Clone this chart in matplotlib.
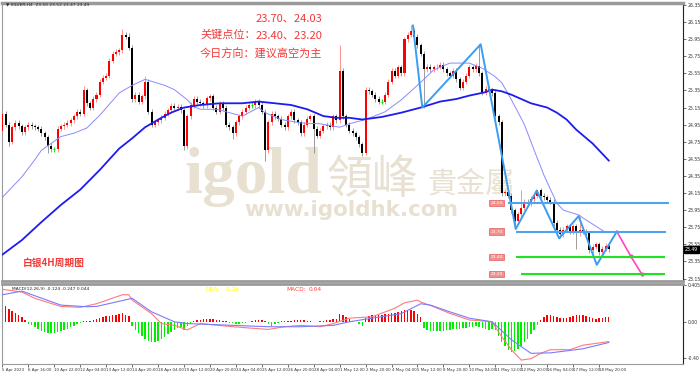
import numpy as np
import matplotlib.pyplot as plt

# ---- price data (4H candles, bar index 0..187) ----
open0 = 24.87
closes = [
    25.08, 24.95, 24.75, 24.92, 24.97, 24.93, 24.86, 24.92, 24.95, 24.93,
    24.92, 24.90, 24.85, 24.80, 24.70, 24.66, 24.66, 24.90, 24.93, 24.95,
    24.97, 25.00, 25.05, 25.10, 25.08, 25.35, 25.20, 25.15, 25.25, 25.30,
    25.45, 25.50, 25.52, 25.70, 25.78, 25.80, 25.82, 26.00, 25.98, 25.85,
    25.25, 25.30, 25.22, 25.28, 25.45, 25.10, 24.95, 24.98, 25.00, 25.03,
    25.08, 25.12, 25.17, 25.15, 25.16, 25.12, 24.70, 25.05, 25.18, 25.25,
    25.22, 25.20, 25.18, 25.26, 25.28, 25.15, 25.10, 25.20, 25.15, 24.95,
    24.92, 24.85, 24.98, 25.05, 25.10, 25.15, 25.18, 25.18, 25.22, 25.18,
    25.10, 24.65, 24.98, 25.08, 25.05, 25.02, 24.95, 24.92, 25.05, 25.10,
    25.00, 24.98, 24.85, 24.95, 25.02, 25.05, 24.90, 24.82, 24.88, 24.93,
    24.95, 24.92, 25.05, 25.00, 25.58, 25.05, 24.95, 24.88, 24.85, 24.80,
    24.72, 24.62, 25.36, 25.34, 25.30, 25.25, 25.22, 25.22, 25.30, 25.45,
    25.58, 25.52, 25.62, 25.55, 25.95, 26.00, 26.05, 25.98, 25.88, 25.78,
    25.60, 25.63, 25.60, 25.62, 25.63, 25.65, 25.60, 25.55, 25.52, 25.58,
    25.48, 25.38, 25.45, 25.52, 25.62, 25.60, 25.64, 25.55, 25.33, 25.37,
    25.35, 25.32, 25.05, 24.98, 24.15, 24.16, 24.12, 23.95, 23.82, 23.90,
    23.98, 24.05, 24.03, 24.08, 24.12, 24.18, 24.12, 24.10, 24.07, 24.05,
    23.80, 23.72, 23.67, 23.72, 23.76, 23.70, 23.76, 23.68, 23.72, 23.70,
    23.68, 23.48, 23.52, 23.55, 23.46, 23.50, 23.53, 23.49]
big_highs = {0: 25.20, 25: 25.40, 37: 26.07, 39: 26.02, 44: 25.52, 104: 25.88,
             126: 26.11, 147: 25.89, 160: 24.19, 165: 24.18, 178: 23.88}
big_lows = {2: 24.70, 14: 24.62, 56: 24.65, 71: 24.78, 81: 24.53, 96: 24.62,
            111: 24.58, 130: 25.15, 158: 23.73, 172: 23.62, 177: 23.50}

# moving averages (bar index, price)
ma_thin_idx = [0, 6, 10, 12, 18, 22, 26, 30, 36, 40, 44, 50, 53, 57, 59, 61, 66, 69,
               74, 79, 81, 86, 92, 98, 104, 107, 112, 118, 123, 128, 133, 138, 144,
               148, 152, 154, 157, 161, 164, 167, 171, 173, 178, 179, 186]
ma_thin_val = [24.10, 24.34, 24.54, 24.65, 24.81, 24.85, 24.91, 25.06, 25.32, 25.41,
               25.48, 25.41, 25.36, 25.24, 25.16, 25.13, 25.13, 25.10, 25.05, 25.15,
               25.09, 25.01, 24.97, 24.96, 24.92, 24.96, 25.01, 25.10, 25.24, 25.41,
               25.59, 25.67, 25.67, 25.61, 25.51, 25.44, 25.24, 24.95, 24.65, 24.36,
               24.03, 23.95, 23.89, 23.86, 23.69]
ma_thick_idx = [0, 6, 12, 18, 24, 30, 36, 40, 44, 49, 52, 56, 61, 67, 74, 79, 84, 89,
                94, 99, 103, 107, 111, 117, 123, 129, 135, 140, 144, 149, 151, 154,
                157, 163, 168, 171, 174, 177, 182, 184, 187]
ma_thick_val = [23.43, 23.60, 23.81, 24.01, 24.19, 24.42, 24.67, 24.79, 24.92, 25.03,
                25.09, 25.15, 25.18, 25.20, 25.20, 25.22, 25.20, 25.18, 25.13, 25.05,
                25.03, 25.03, 25.01, 25.04, 25.09, 25.15, 25.22, 25.25, 25.29, 25.33,
                25.36, 25.34, 25.30, 25.20, 25.15, 25.09, 25.01, 24.89, 24.73, 24.65,
                24.53]

# hand-drawn analysis lines
zigzag_idx = [126.6, 129.5, 147.5, 158.3, 164.8, 171.7, 177.7, 183.3, 189.5]
zigzag_val = [26.11, 25.15, 25.89, 23.73, 24.18, 23.62, 23.88, 23.31, 23.70]
proj_idx = [189.5, 193.8, 197.2]
proj_val = [23.70, 23.41, 23.20]
key_levels = [24.03, 23.70, 23.40, 23.20]
level_labels = ['24.03', '23.70', '23.40', '23.20']
level_start = [155.8, 158.3, 158.5, 159.9]
level_end = [205.6, 204.6, 204.3, 204.3]
level_colors = ['#4da3f2', '#4da3f2', '#22e022', '#22e022']

# MACD panel
hist = [0.18, 0.17, 0.14, 0.12, 0.10, 0.08, 0.05, 0.02,
        -0.02, -0.04, -0.06, -0.08, -0.10, -0.11, -0.12, -0.125, -0.12, -0.11, -0.10,
        -0.09, -0.08, -0.06, -0.05, -0.03, -0.01,
        0.005, 0.01,
        0.01, 0.02, 0.03, 0.04, 0.05, 0.06, 0.06, 0.07, 0.08, 0.09, 0.10, 0.08, 0.06,
        -0.05, -0.09, -0.13, -0.16, -0.19, -0.21, -0.22, -0.22, -0.21, -0.19, -0.17,
        -0.14, -0.11, -0.09, -0.07, -0.06, -0.09, -0.05, -0.02,
        0.01, 0.02, 0.025, 0.03, 0.035, 0.035, 0.03, 0.025, 0.02, 0.01, 0.005,
        -0.01, -0.015, -0.02, -0.02, -0.015, -0.01, -0.005,
        0.01, 0.02, 0.025, 0.02, 0.01,
        -0.03, -0.05, -0.03, -0.01,
        0.005, 0.01, 0.005,
        0.01, 0.015, 0.02, 0.02, 0.015, 0.01, 0.005,
        -0.005, 0.0, 0.005, 0.005,
        0.02, 0.025, 0.03, 0.035, 0.09, 0.07, 0.05,
        0.03, 0.01, -0.005, -0.02, -0.05,
        0.04, 0.06, 0.07, 0.08, 0.08, 0.08, 0.085, 0.09, 0.10, 0.10, 0.11, 0.12, 0.13,
        0.13, 0.13, 0.12, 0.09, 0.05,
        -0.07, -0.09, -0.10, -0.10, -0.10, -0.10, -0.10, -0.095, -0.09, -0.085, -0.08,
        -0.075, -0.07, -0.065, -0.06, -0.055, -0.05, -0.06, -0.07, -0.08, -0.09, -0.08,
        -0.09, -0.16, -0.22, -0.27, -0.31, -0.33, -0.32, -0.30, -0.27, -0.23, -0.19,
        -0.14, -0.09, -0.04,
        0.02, 0.05, 0.07, 0.075, 0.065, 0.05, 0.04, 0.04, 0.045, 0.055, 0.065, 0.075,
        0.08, 0.075, 0.06, 0.05, 0.04, 0.035, 0.04, 0.045, 0.05, 0.05]
macd_idx = [0, 6, 10, 18, 24, 29, 37, 39, 40, 46, 49, 53, 57, 61, 71, 82, 87, 92, 98,
            102, 107, 114, 121, 124, 128, 129, 133, 138, 144, 151, 154, 157, 160, 163,
            166, 169, 175, 179, 187]
macd_val = [0.36, 0.33, 0.26, 0.17, 0.16, 0.20, 0.30, 0.30, 0.24, 0.09, -0.02, -0.04,
            -0.09, -0.02, -0.055, -0.085, -0.055, -0.04, -0.055, -0.02, 0.04, 0.055,
            0.15, 0.21, 0.24, 0.22, 0.167, 0.093, 0.02, 0.0, -0.167, -0.31, -0.425,
            -0.41, -0.35, -0.31, -0.31, -0.26, -0.22]
dea_idx = [0, 6, 18, 26, 29, 40, 46, 53, 57, 71, 82, 92, 102, 107, 114, 123, 129, 132,
           138, 144, 151, 157, 163, 169, 179, 187]
dea_val = [0.30, 0.34, 0.185, 0.167, 0.17, 0.26, 0.11, 0.0, -0.02, -0.04, -0.055,
           -0.055, -0.04, 0.0, 0.04, 0.09, 0.20, 0.185, 0.11, 0.04, 0.0, -0.20, -0.35,
           -0.345, -0.30, -0.23]

price_ticks = [26.35, 26.15, 25.95, 25.75, 25.55, 25.35, 25.15, 24.95, 24.75, 24.55,
               24.35, 24.15, 23.95, 23.75, 23.55, 23.35, 23.15]
time_labels = ['5 Apr 2023', '6 Apr 16:00', '10 Apr 22:00', '12 Apr 04:00',
               '13 Apr 12:00', '14 Apr 20:00', '18 Apr 04:00', '19 Apr 12:00',
               '20 Apr 20:00', '24 Apr 04:00', '25 Apr 12:00', '26 Apr 20:00',
               '28 Apr 04:00', '1 May 12:00', '2 May 20:00', '4 May 04:00',
               '5 May 12:00', '8 May 20:00', '10 May 04:00', '11 May 12:00',
               '12 May 20:00', '16 May 04:00', '17 May 12:00', '18 May 20:00']

W, H = 700, 374
fig = plt.figure(figsize=(W / 100, H / 100), dpi=100)
ax = fig.add_axes([1.5 / W, 1 - 281 / H, 681.5 / W, 278 / H])
ax2 = fig.add_axes([1.5 / W, 1 - 363.5 / H, 681.5 / W, 79.5 / H])
xlim = (-0.3, 209.9)

# watermark
wm = '#e8e1d2'
ax.text(185 / W, 1 - 193 / H, 'igold', transform=fig.transFigure, fontsize=47,
        family='Liberation Serif', weight='bold', color=wm, zorder=0.5)
ax.text(327 / W, 1 - 193 / H, '領峰', transform=fig.transFigure, fontsize=33,
        family='Noto Sans CJK TC', color=wm, zorder=0.5)
ax.text(427 / W, 1 - 193 / H, '貴金屬', transform=fig.transFigure, fontsize=21,
        family='Noto Sans CJK TC', color=wm, zorder=0.5)
ax.text(244 / W, 1 - 216 / H, 'www.igoldhk.com', transform=fig.transFigure,
        fontsize=15.5, family='DejaVu Sans', weight='bold', color=wm, zorder=0.4)

# candles
opens = [open0] + closes[:-1]
for i in range(len(closes)):
    o, c = opens[i], closes[i]
    hi = big_highs.get(i, max(o, c) + 0.03)
    lo = big_lows.get(i, min(o, c) - 0.03)
    if c > o:
        body, wick = '#ff0000', '#ff8080'
    elif c < o:
        body, wick = '#000000', '#8c8c8c'
    else:
        body, wick = '#00e000', '#00e000'
    ax.vlines(i, lo, hi, color=wick, lw=0.6, zorder=2)
    if c == o:
        ax.hlines(c, i - 0.35, i + 0.35, color=body, lw=0.8, zorder=3)
    else:
        ax.bar(i, c - o, bottom=o, width=0.62, color=body, lw=0, zorder=3)

ax.plot(ma_thin_idx, ma_thin_val, color='#8a8aff', lw=0.7, zorder=4)
ax.plot(ma_thick_idx, ma_thick_val, color='#1c1cf0', lw=1.3, zorder=4)

ax.plot(zigzag_idx, zigzag_val, color='#3a9cf2', lw=1.4, zorder=5)
ax.plot(proj_idx, proj_val, color='#ff44cc', lw=1.2, zorder=5)
ax.plot(proj_idx[1:], proj_val[1:], 'o', color='#ff44cc', ms=2, zorder=5)
for lv, lab, s, e, col in zip(key_levels, level_labels, level_start, level_end, level_colors):
    ax.hlines(lv, s, e, color=col, lw=1.5, zorder=5)
    ax.text(152.4, lv, lab, fontsize=3.2, color='white', ha='center', va='center',
            zorder=6, bbox=dict(boxstyle='square,pad=0.25', fc='#f29090', ec='#e04040', lw=0.4))

ax.set_xlim(*xlim)
ax.set_ylim(23.121, 26.373)
ax.yaxis.tick_right()
ax.set_yticks(price_ticks)
ax.set_yticklabels([f'{v:.2f}' for v in price_ticks])
ax.tick_params(axis='y', labelsize=3.3, length=2, width=0.5, pad=1.5, colors='#333333')
ax.set_xticks([])
for s in ['left', 'bottom']:
    ax.spines[s].set_color('#9a9a9a')
ax.spines['top'].set_color('#9a9a9a')
ax.spines['top'].set_linewidth(2.5)
ax.spines['bottom'].set_linewidth(2)
ax.spines['right'].set_color('#222222')
ax.spines['right'].set_linewidth(0.8)
ax.text(210.4, closes[-1], f'{closes[-1]:.2f}', fontsize=3.3, color='white',
        ha='left', va='center', clip_on=False,
        bbox=dict(boxstyle='square,pad=0.2', fc='black', ec='black'))

# texts
red = '#f23a3a'
cjk = ['Noto Sans CJK SC', 'DejaVu Sans']
ax.text(6 / W, 1 - 5 / H, '\u25bc SILVER,H4  23.50 23.52 23.47 23.49', transform=fig.transFigure,
        fontsize=3.2, color='#222222', va='center')
ax.text(256 / W, 1 - 18 / H, '23.70、24.03', transform=fig.transFigure, fontsize=8,
        family=cjk, color=red, va='center')
ax.text(200 / W, 1 - 35 / H, '关键点位：', transform=fig.transFigure, fontsize=8,
        family=cjk, color=red, va='center')
ax.text(256 / W, 1 - 35 / H, '23.40、23.20', transform=fig.transFigure, fontsize=8,
        family=cjk, color=red, va='center')
ax.text(200 / W, 1 - 54 / H, '今日方向：建议高空为主', transform=fig.transFigure, fontsize=8,
        family=cjk, color=red, va='center')
ax.text(23 / W, 1 - 263 / H, '白银4H周期图', transform=fig.transFigure, fontsize=7,
        family=cjk, color=red, va='center', weight='bold')

# MACD panel
idx = np.arange(len(hist))
hcol = ['#ff0000' if v >= 0 else '#00ee00' for v in hist]
ax2.bar(idx, hist, width=0.45, color=hcol, lw=0, zorder=2)
ax2.plot(macd_idx, macd_val, color='#ff7a7a', lw=0.8, zorder=3)
ax2.plot(dea_idx, dea_val, color='#7a7aff', lw=0.8, zorder=3)
ax2.set_xlim(*xlim)
ax2.set_ylim(-0.463, 0.419)
ax2.yaxis.tick_right()
ax2.set_yticks([0.405, 0.0, -0.40])
ax2.set_yticklabels(['0.405', '0.00', '-0.40'])
ax2.tick_params(axis='y', labelsize=3.3, length=2, width=0.5, pad=1.5, colors='#333333')
ax2.set_xticks(np.arange(0, 8 * len(time_labels), 8))
ax2.set_xticklabels(time_labels, ha='left')
ax2.tick_params(axis='x', labelsize=2.9, length=2, width=0.5, pad=1.5, colors='#333333')
for s in ['left', 'bottom']:
    ax2.spines[s].set_color('#9a9a9a')
ax2.spines['top'].set_color('#9a9a9a')
ax2.spines['top'].set_linewidth(2)
ax2.spines['right'].set_color('#222222')
ax2.spines['right'].set_linewidth(0.8)
ax2.text(3, 0.36, 'MACD(12,26,9) -0.124 -0.247 0.044', fontsize=3.2, color='#222222', va='center')
ax2.text(62.5, 0.36, 'DEA:', fontsize=4.2, color='#ffff00', va='center')
ax2.text(68.5, 0.36, '-0.25', fontsize=4.2, color='#ffff00', va='center')
ax2.text(87.5, 0.36, 'MACD:', fontsize=4.2, color='#ff4040', va='center')
ax2.text(94.5, 0.36, '0.04', fontsize=4.2, color='#ff4040', va='center')

fig.savefig('out.png', dpi=100)
